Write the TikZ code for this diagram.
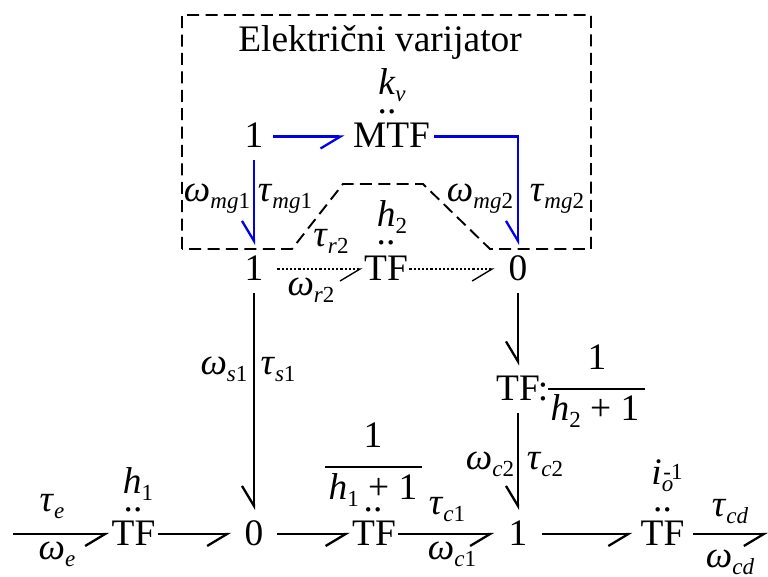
\documentclass[tikz,border=0pt]{standalone}
\usepackage{fontspec}
\setmainfont{Liberation Serif}
\usetikzlibrary{arrows.meta}
\newcommand{\subf}{\fontsize{11.5}{12}\selectfont}
\newcommand{\bsym}[2]{\textit{#1}\raisebox{-3.2pt}{\subf #2}}
\tikzset{
  txt/.style={font=\fontsize{18.7}{20}\selectfont,anchor=base,inner sep=0pt},
  elem/.style={txt,text height=11.5pt,text depth=0pt,inner ysep=6pt},
  bond/.style={line width=1.15pt,-{Straight Barb[right,length=10pt,width=12pt]}},
  ebond/.style={bond,draw=varblue,-{Straight Barb[right,color=varblue,length=10pt,width=12pt]}},
  dbond/.style={line width=.7pt,dash pattern=on 1.1pt off 1pt,-{Straight Barb[right,length=10pt,width=12pt,line width=.7pt]}},
  fracline/.style={line width=.9pt}
}
\definecolor{varblue}{RGB}{0,0,230}
\begin{document}
\begin{tikzpicture}[x=.5pt,y=-.5pt]
\useasboundingbox (0,0) rectangle (768,577);
\draw [line width=.95pt,dash pattern=on 6pt off 3.2pt] (182,249) -- (182,15) -- (591,15) -- (591,249)
  -- (490,249) -- (423,184) -- (343,184) -- (292,249) -- cycle;
\node [txt] (title) at (380,52) {Električni varijator};
% electric part
\node [elem,inner xsep=4.6pt] (oneMg) at (254,148) {1};
\node [elem,inner xsep=2pt] (mtf) at (391.5,148) {MTF};
\node [txt] (kv) at (392,95) {\bsym{k}{\textit{v}}};
\node [txt] (mtfDots) at (387,114) {..};
\node [elem,inner xsep=6.8pt] (oneR) at (254,280.5) {1};
\node [elem,inner xsep=.6pt] (tfR) at (386,280.5) {TF};
\node [elem,inner xsep=6.8pt] (zeroR) at (518,280.5) {0};
\node [txt] (h2) at (392,227) {\bsym{h}{2}};
\node [txt] (tfRDots) at (386,245) {..};
\node [txt] (wMg1) at (217,202) {\bsym{ω}{\textit{mg}1}};
\node [txt] (tMg1) at (285,202) {\bsym{τ}{\textit{mg}1}};
\node [txt] (wMg2) at (480,202) {\bsym{ω}{\textit{mg}2}};
\node [txt] (tMg2) at (557,202) {\bsym{τ}{\textit{mg}2}};
\node [txt] (tR2) at (331,247) {\bsym{τ}{\textit{r}2}};
\node [txt] (wR2) at (311,296) {\bsym{ω}{\textit{r}2}};
\draw [ebond,shorten >=2pt] (oneMg) -- (mtf);
\draw [ebond] (mtf) -| (zeroR);
\draw [ebond] (oneMg) -- (oneR);
\draw [dbond] (oneR) -- (tfR);
\draw [dbond] (tfR) -- (zeroR);
% middle part
\node [elem,inner xsep=6.5pt] (zeroS) at (254,545.5) {0};
\node [txt] (wS1) at (224,375) {\bsym{ω}{\textit{s}1}};
\node [txt] (tS1) at (278,375) {\bsym{τ}{\textit{s}1}};
\draw [bond] (oneR) -- (zeroS);
\node [elem,inner xsep=1pt] (tfC) at (518,401) {TF};
\node [txt] (tfCColon) at (543,401) {:};
\node [txt] (frCNum) at (597,370) {1};
\node [txt] (frCDen) at (595,421) {\bsym{h}{2} + 1};
\coordinate (frCL) at (548,389);
\coordinate (frCR) at (645,389);
\draw [fracline] (frCL) -- (frCR);
\node [elem,inner xsep=7pt] (oneC) at (518,545.5) {1};
\node [txt] (wC2) at (490,470) {\bsym{ω}{\textit{c}2}};
\node [txt] (tC2) at (545,470) {\bsym{τ}{\textit{c}2}};
\draw [bond] (zeroR) -- (tfC);
\draw [bond] (tfC) -- (oneC);
% bottom row
\coordinate (inE) at (13,534);
\node [elem,inner xsep=1pt] (tfE) at (133.5,545.5) {TF};
\node [txt] (h1) at (138,494) {\bsym{h}{1}};
\node [txt] (tfEDots) at (133,512) {..};
\node [txt] (tE) at (52,512) {\bsym{τ}{\textit{e}}};
\node [txt] (wE) at (57,560) {\bsym{ω}{\textit{e}}};
\node [elem,inner xsep=1pt] (tfS) at (374,545.5) {TF};
\node [txt] (tfSDots) at (373,512) {..};
\node [txt] (frSNum) at (373,448) {1};
\node [txt] (frSDen) at (373,500) {\bsym{h}{1} + 1};
\coordinate (frSL) at (325,467);
\coordinate (frSR) at (422,467);
\draw [fracline] (frSL) -- (frSR);
\node [txt] (tC1) at (447,515) {\bsym{τ}{\textit{c}1}};
\node [txt] (wC1) at (452,560) {\bsym{ω}{\textit{c}1}};
\node [elem,inner xsep=3.9pt] (tfO) at (662.5,545.5) {TF};
\node [txt] (tfODots) at (662.5,512) {..};
\node [txt] (io) at (667,485) {\textit{i}\raisebox{-3.2pt}{\rlap{\subf\textit{o}}}\kern.8pt\raisebox{2.5pt}{\subf -1}};
\node [txt] (tCd) at (730,517) {\bsym{τ}{\textit{cd}}};
\node [txt] (wCd) at (730,568) {\bsym{ω}{\textit{cd}}};
\coordinate (outCd) at (768,534);
\draw [bond] (inE) -- (tfE);
\draw [bond] (tfE) -- (zeroS);
\draw [bond] (zeroS) -- (tfS);
\draw [bond] (tfS) -- (oneC);
\draw [bond] (oneC) -- (tfO);
\draw [bond] (tfO) -- (outCd);
\end{tikzpicture}
\end{document}
